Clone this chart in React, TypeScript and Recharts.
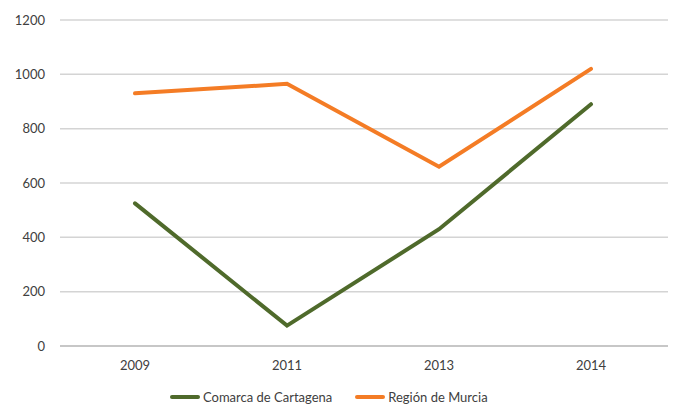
import React from "react";
import { LineChart, Line, XAxis, YAxis, CartesianGrid, Legend } from "recharts";

const years = ["2009", "2011", "2013", "2014"];
const comarca = [525, 75, 430, 890];
const region = [930, 965, 660, 1020];
const yTicks = [0, 200, 400, 600, 800, 1000, 1200];

const GREEN = "#4F6A2B";
const ORANGE = "#F47C25";
const FONT = "Lato, 'Open Sans', sans-serif";

const data = years.map((y, i) => ({ year: y, comarca: comarca[i], region: region[i] }));

const LegendContent = (props: any) => {
  const items = props.payload || [];
  return (
    <div style={{ display: "flex", alignItems: "center", paddingLeft: 170, fontFamily: FONT, fontSize: 13, color: "#404040", height: 18 }}>
      {items.map((it: any, i: number) => (
        <div key={i} style={{ display: "flex", alignItems: "center", marginRight: 23 }}>
          <span style={{ display: "inline-block", width: 30, height: 4, borderRadius: 2, background: it.color, marginRight: 3 }} />
          <span>{it.value}</span>
        </div>
      ))}
    </div>
  );
};

export default function App() {
  return (
    <div style={{ position: "absolute", left: 0, top: 0, width: 675, height: 404, background: "#fff" }}>
      <LineChart width={675} height={404} data={data} margin={{ top: 20, right: 7, left: 0, bottom: 10 }}>
        <CartesianGrid vertical={false} stroke="#d4d4d4" strokeWidth={1.5} />
        <XAxis
          dataKey="year"
          padding={{ left: 75, right: 77 }}
          tickLine={false}
          tickSize={0}
          tickMargin={15}
          height={30}
          axisLine={{ stroke: "#bfbfbf", strokeWidth: 1.5 }}
          tick={{ fill: "#404040", fontSize: 13, fontFamily: FONT }}
        />
        <YAxis
          width={60}
          domain={[0, 1200]}
          ticks={yTicks}
          axisLine={false}
          tickLine={false}
          tickSize={0}
          tickMargin={15}
          tick={{ fill: "#404040", fontSize: 13, fontFamily: FONT }}
        />
        <Legend
          verticalAlign="bottom"
          height={20}
          content={<LegendContent />}
          wrapperStyle={{ top: 388, bottom: "auto", left: 0, width: 675, height: 18 }}
        />
        <Line type="linear" dataKey="comarca" name="Comarca de Cartagena" stroke={GREEN} strokeWidth={4} strokeLinecap="round" dot={false} activeDot={false} isAnimationActive={false} />
        <Line type="linear" dataKey="region" name="Región de Murcia" stroke={ORANGE} strokeWidth={4} strokeLinecap="round" dot={false} activeDot={false} isAnimationActive={false} />
      </LineChart>
    </div>
  );
}
